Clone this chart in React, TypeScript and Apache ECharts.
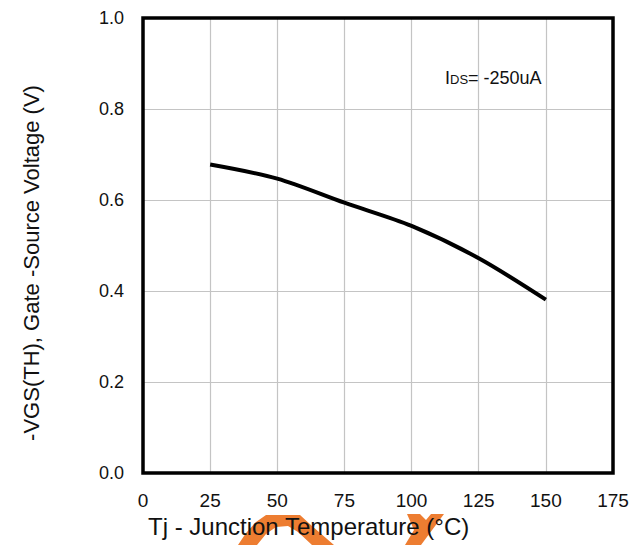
import React, { useEffect, useRef } from "react";
import * as echarts from "echarts";

const temperatures = [25, 50, 75, 100, 125, 150];
const vgsth = [0.678, 0.647, 0.594, 0.543, 0.472, 0.381];
const xTicks = { min: 0, max: 175, interval: 25 };
const yTicks = { min: 0, max: 1.0, interval: 0.2 };

const xTitle = "Tj - Junction Temperature (°C)";
const yTitle = "-VGS(TH), Gate -Source Voltage (V)";

const NARROW = "'Liberation Sans', Arial, sans-serif";
const SANS = "'Liberation Sans', Arial, sans-serif";
const ORANGE = "#ED7D31";

export default function App() {
  const ref = useRef<HTMLDivElement>(null);
  useEffect(() => {
    document.body.style.margin = "0";
    if (!ref.current) return;
    const chart = echarts.init(ref.current, undefined, { renderer: "svg" });
    chart.setOption({
      animation: false,
      backgroundColor: "#ffffff",
      grid: {
        left: 143,
        top: 18,
        right: 29,
        bottom: 72,
        show: true,
        borderColor: "#000",
        borderWidth: 3.5,
        backgroundColor: "transparent",
        z: 3,
      },
      xAxis: {
        type: "value",
        min: xTicks.min,
        max: xTicks.max,
        interval: xTicks.interval,
        axisLine: { show: false },
        axisTick: { show: false },
        axisLabel: {
          color: "#111",
          fontFamily: NARROW,
          fontSize: 19,
          margin: 18,
          formatter: (v: number) => String(v),
        },
        splitLine: { show: true, lineStyle: { color: "#c4c4c4", width: 1.2 } },
      },
      yAxis: {
        type: "value",
        min: yTicks.min,
        max: yTicks.max,
        interval: yTicks.interval,
        axisLine: { show: false },
        axisTick: { show: false },
        axisLabel: {
          color: "#111",
          fontFamily: NARROW,
          fontSize: 18,
          margin: 19,
          formatter: (v: number) => v.toFixed(1),
        },
        splitLine: { show: true, lineStyle: { color: "#c4c4c4", width: 1.2 } },
      },
      series: [
        {
          type: "line",
          data: temperatures.map((t, i) => [t, vgsth[i]]),
          smooth: 0.3,
          symbol: "none",
          lineStyle: { color: "#000", width: 4 },
          z: 5,
        },
      ],
      graphic: [
        {
          type: "polygon",
          z: 1,
          shape: {
            points: [
              [238, 545], [246, 533], [256, 522], [266, 515], [300, 515],
              [312, 526], [334, 545], [312, 545], [298, 532], [288, 526],
              [276, 527], [266, 534], [257, 545],
            ],
          },
          style: { fill: ORANGE },
        },
        {
          type: "polygon",
          z: 1,
          shape: {
            points: [
              [407, 514], [420, 514], [426, 520], [431, 514], [444, 514],
              [421, 545], [405, 545], [414, 530],
            ],
          },
          style: { fill: ORANGE },
        },
        {
          type: "text",
          z: 10,
          left: 148,
          top: 514,
          style: {
            text: xTitle,
            fontFamily: SANS,
            fontSize: 24,
            fill: "#111",
          },
        },
        {
          type: "text",
          z: 10,
          x: 31,
          y: 263,
          rotation: Math.PI / 2,
          style: {
            text: yTitle,
            fontFamily: SANS,
            fontSize: 22,
            fill: "#111",
            align: "center",
            verticalAlign: "middle",
          },
        },
        {
          type: "text",
          z: 10,
          x: 445,
          y: 87,
          style: {
            text: "{a|I}{b|DS}{a|= -250uA}",
            fill: "#111",
            verticalAlign: "bottom",
            rich: {
              a: { fontFamily: NARROW, fontSize: 18, fill: "#111", verticalAlign: "bottom" },
              b: { fontFamily: NARROW, fontSize: 13, fill: "#111", verticalAlign: "bottom", padding: [0, 0, 1, 0] },
            },
          },
        },
      ],
    });
    return () => chart.dispose();
  }, []);
  return <div ref={ref} style={{ width: 642, height: 545 }} />;
}
